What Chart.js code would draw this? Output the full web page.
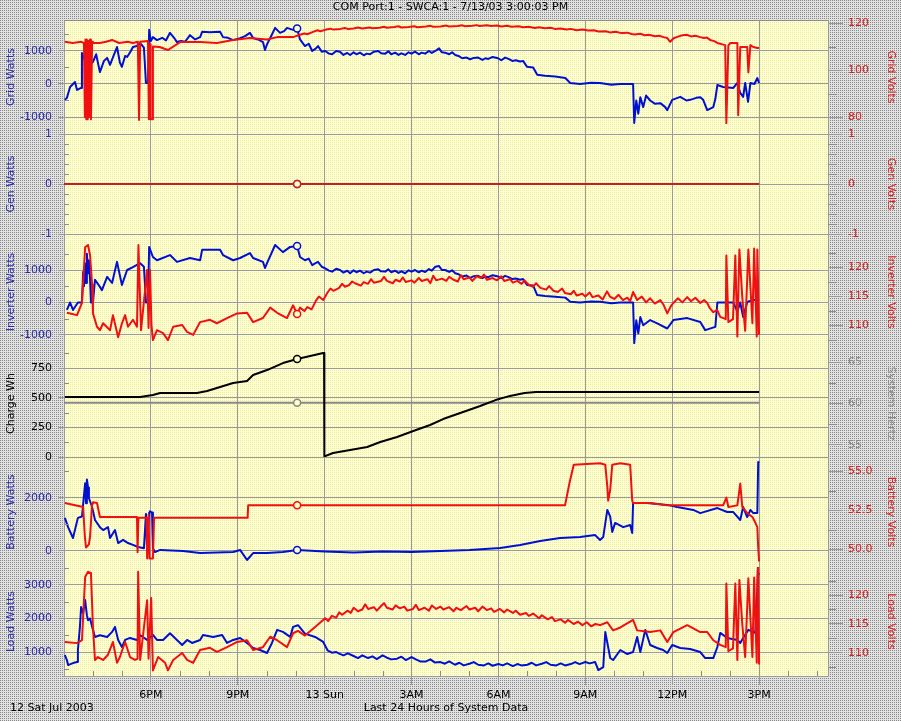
<!DOCTYPE html>
<html>
<head>
<meta charset="utf-8">
<title>COM Port:1 - SWCA:1</title>
<script src="https://cdn.jsdelivr.net/npm/chart.js@4.4.1/dist/chart.umd.min.js"></script>
<style>
  html, body { margin: 0; padding: 0; background: #d4d4d4; }
  canvas { display: block; }
</style>
</head>
<body>
<canvas id="chart" width="901" height="721"></canvas>
<script>
// hours since 3PM Sat 12 Jul 2003
let xTickHours = [3, 6, 9, 12, 15, 18, 21, 24];
let xTickLabels = ["6PM", "9PM", "13 Sun", "3AM", "6AM", "9AM", "12PM", "3PM"];
let markHour = 8.05;

// [hour, value]
let gridWatts = [[0.03,-480],[0.10,-420],[0.21,-90],[0.38,60],[0.45,-180],[0.59,-120],[0.62,940],[0.73,700],[0.83,1000],[0.90,600],[1.00,670],[1.11,900],[1.24,360],[1.38,700],[1.49,790],[1.59,580],[1.73,900],[1.83,1120],[1.93,650],[2.00,520],[2.11,850],[2.18,820],[2.31,1000],[2.38,1120],[2.52,1150],[2.63,1240],[2.76,1100],[2.83,30],[2.90,30],[2.94,1640],[3.00,1300],[3.07,1420],[3.21,1330],[3.39,1400],[3.52,1320],[3.66,1550],[3.80,1400],[3.90,1270],[4.04,1300],[4.18,1280],[4.35,1480],[4.53,1350],[4.70,1420],[4.77,1580],[5.04,1570],[5.39,1580],[5.49,1420],[5.66,1400],[5.84,1330],[6.08,1390],[6.25,1450],[6.42,1550],[6.53,1390],[6.70,1350],[6.87,1270],[6.94,1030],[7.01,1200],[7.18,1500],[7.29,1700],[7.46,1550],[7.60,1600],[7.70,1700],[7.91,1640],[8.05,1680],[8.15,1350],[8.32,1150],[8.45,1220],[8.57,1000],[8.70,1080],[8.77,1150],[8.90,980],[9.02,1000],[9.15,920],[9.26,900],[9.40,1000],[9.53,980],[9.65,880],[9.78,940],[9.88,880],[10.0,960],[10.1,900],[10.22,950],[10.35,870],[10.45,920],[10.57,900],[10.7,980],[10.85,1000],[10.95,930],[11.09,920],[11.2,990],[11.3,900],[11.43,950],[11.55,880],[11.65,930],[11.78,880],[11.9,960],[12.0,920],[12.12,980],[12.25,900],[12.35,950],[12.47,920],[12.6,1000],[12.7,940],[12.82,1000],[12.95,1080],[13.05,960],[13.16,950],[13.3,900],[13.4,960],[13.51,880],[13.62,850],[13.75,780],[13.9,800],[14.02,750],[14.15,790],[14.30,800],[14.45,730],[14.55,780],[14.65,760],[14.8,820],[14.99,780],[15.1,720],[15.23,800],[15.35,760],[15.48,700],[15.6,720],[15.75,680],[15.85,700],[15.99,520],[16.20,500],[16.34,280],[16.61,250],[16.96,230],[17.31,180],[17.48,30],[17.82,0],[18.2,40],[18.51,30],[18.9,-20],[19.20,0],[19.65,0],[19.69,-1180],[19.76,-500],[19.83,-900],[19.90,-400],[20.00,-700],[20.10,-350],[20.24,-500],[20.41,-600],[20.59,-580],[20.76,-700],[20.83,-790],[21.00,-480],[21.28,-390],[21.49,-500],[21.62,-480],[21.83,-420],[21.97,-400],[22.07,-480],[22.21,-790],[22.42,-700],[22.49,-450],[22.56,-30],[22.76,-90],[23.11,-120],[23.25,30],[23.35,-270],[23.45,-390],[23.52,30],[23.62,-540],[23.70,30],[23.84,0],[23.94,180],[24.00,30]];
let gridVolts = [[0.03,112],[0.30,111.5],[0.60,112],[0.69,111.5],[0.72,80],[0.74,113],[0.77,79],[0.79,113],[0.82,79],[0.85,112.5],[0.88,80],[0.90,113],[0.93,79],[0.97,112],[1.00,111.5],[1.24,111.5],[1.45,112],[1.66,112.8],[1.90,111.5],[2.20,112],[2.38,111.5],[2.55,112],[2.59,78.7],[2.63,112],[2.90,112.3],[2.93,79],[2.97,111],[2.99,79],[3.05,79],[3.07,110],[3.30,109.8],[3.59,108.5],[4.01,111.9],[4.70,111.9],[5.28,111.5],[5.84,112.8],[6.42,113.6],[7.01,113],[7.36,114],[7.91,114],[8.15,115],[8.3,115.5],[8.4,115.2],[8.6,116.2],[8.75,116.9],[8.85,116.5],[9.05,117.2],[9.2,117.6],[9.3,117.2],[9.55,117.5],[9.7,117.9],[9.8,117.5],[10.0,117.7],[10.15,118.1],[10.3,117.7],[10.55,118.1],[10.65,117.8],[10.9,118],[11.05,118.4],[11.15,118],[11.4,118.3],[11.55,118.6],[11.65,118.1],[11.9,118.3],[12.1,118.6],[12.2,118.2],[12.5,118.5],[12.65,118.8],[12.75,118.4],[13.0,118.5],[13.2,118.9],[13.3,118.5],[13.6,118.7],[13.75,119],[13.85,118.6],[14.1,118.8],[14.25,119.1],[14.35,118.7],[14.6,119],[14.75,118.7],[14.95,118.9],[15.1,118.5],[15.3,118.8],[15.45,118.4],[15.7,118.6],[15.85,118.2],[16.05,118.4],[16.25,117.9],[16.4,118.2],[16.6,117.8],[16.8,118],[16.95,117.5],[17.15,117.7],[17.35,117.2],[17.5,117.5],[17.7,116.9],[17.9,117.2],[18.1,116.8],[18.3,116.9],[18.45,116.4],[18.7,116.5],[18.85,116],[19.05,116.3],[19.25,115.7],[19.45,115.9],[19.6,115.3],[19.7,115.1],[19.9,115.4],[20.05,114.8],[20.2,115.0],[20.4,114.4],[20.55,114.6],[20.7,114.0],[20.83,113.6],[20.93,112],[21.05,113.5],[21.2,114.2],[21.35,114.8],[21.5,115],[21.65,114.3],[21.8,114.6],[21.97,114],[22.1,113.6],[22.2,113.8],[22.31,112.8],[22.45,112.3],[22.56,111.5],[22.83,110.6],[22.87,77.4],[22.94,110.5],[23.01,111.5],[23.25,111.5],[23.28,80.8],[23.35,109.8],[23.59,109.8],[23.63,99],[23.70,110.6],[23.80,109.8],[23.94,109.4],[24.00,109.4]];
let genWatts = [[0,0],[8.05,0],[24,0]];
let genVolts = [[0,0],[8.05,0],[24,0]];
let inverterWatts = [[0.10,-230],[0.21,0],[0.31,-230],[0.48,0],[0.62,0],[0.66,940],[0.69,500],[0.73,1200],[0.76,600],[0.79,1500],[0.83,900],[0.86,1300],[0.90,700],[0.93,0],[1.00,0],[1.07,700],[1.24,480],[1.31,380],[1.49,790],[1.66,600],[1.83,1250],[2.00,540],[2.18,1000],[2.38,1090],[2.63,1210],[2.76,1100],[2.83,0],[2.90,0],[2.94,1710],[3.07,1400],[3.21,1300],[3.66,1460],[3.90,1250],[4.35,1370],[4.70,1300],[4.77,1620],[5.39,1620],[5.49,1460],[5.84,1300],[6.08,1370],[6.42,1520],[6.53,1370],[6.87,1250],[6.94,1060],[7.01,1210],[7.29,1770],[7.56,1550],[7.81,1710],[8.05,1740],[8.15,1400],[8.32,1300],[8.45,1350],[8.57,1150],[8.7,1220],[8.77,1250],[8.9,1100],[9.02,1050],[9.15,980],[9.26,950],[9.4,1040],[9.53,1000],[9.65,920],[9.78,980],[9.88,900],[10.0,990],[10.1,930],[10.22,980],[10.35,900],[10.45,950],[10.57,920],[10.7,1000],[10.85,1020],[10.95,960],[11.09,950],[11.2,1020],[11.3,930],[11.43,980],[11.55,910],[11.65,960],[11.78,900],[11.9,990],[12.0,950],[12.12,1000],[12.25,930],[12.35,980],[12.47,940],[12.6,1030],[12.7,980],[12.82,1100],[12.95,1120],[13.05,1000],[13.16,1000],[13.3,940],[13.4,990],[13.51,900],[13.62,870],[13.75,800],[13.9,830],[14.02,760],[14.15,810],[14.30,820],[14.45,750],[14.55,800],[14.65,780],[14.8,840],[14.99,800],[15.1,750],[15.23,820],[15.35,780],[15.48,720],[15.6,740],[15.75,700],[15.85,720],[15.99,540],[16.20,520],[16.34,230],[16.61,200],[16.96,180],[17.31,150],[17.48,20],[17.82,0],[18.2,30],[18.51,20],[18.9,-20],[19.20,0],[19.65,0],[19.69,-1250],[19.76,-550],[19.83,-950],[19.90,-450],[20.00,-700],[20.24,-540],[20.50,-650],[20.83,-800],[21.04,-540],[21.52,-480],[21.97,-600],[22.14,-850],[22.49,-750],[22.56,0],[23.11,0],[23.25,-280],[23.35,0],[23.45,-450],[23.59,0],[23.63,30],[23.80,80],[24.00,80]];
let inverterVolts = [[0.10,112.1],[0.45,111.7],[0.62,113.8],[0.73,123.4],[0.83,123.8],[0.90,122],[0.97,117],[1.00,112],[1.14,109.7],[1.24,109.1],[1.35,110.3],[1.59,109.1],[1.69,111.7],[1.87,107.9],[2.00,110.3],[2.11,111.7],[2.21,109.7],[2.38,110.9],[2.52,109.7],[2.57,123.8],[2.66,109.1],[2.87,119.5],[2.92,109.5],[2.97,119.5],[3.02,110],[3.07,107.4],[3.21,109.1],[3.42,108.6],[3.59,107.4],[3.77,109.7],[4.08,110],[4.25,108.8],[4.46,108.3],[4.70,110.5],[5.04,110.9],[5.28,110.3],[5.63,111.2],[5.98,112],[6.32,112.1],[6.53,110.5],[6.87,111.2],[7.12,113],[7.36,112.1],[7.70,111.2],[7.91,113.4],[8.05,111.9],[8.15,113],[8.3,112.4],[8.4,113.1],[8.55,112.7],[8.7,114.2],[8.8,114.9],[8.95,114.3],[9.1,115.6],[9.2,116.3],[9.3,115.9],[9.5,116.4],[9.6,117.1],[9.7,116.6],[9.85,116.9],[9.95,117.5],[10.05,117.2],[10.25,116.8],[10.35,117.4],[10.5,117.1],[10.6,117.9],[10.7,117.3],[10.95,117.6],[11.05,118.3],[11.15,117.6],[11.35,117.2],[11.45,117.8],[11.6,117.5],[11.7,118.2],[11.8,117.4],[12.0,117.7],[12.1,117.3],[12.25,118.1],[12.35,117.6],[12.55,117.9],[12.65,117.2],[12.75,118.5],[12.85,117.7],[13.05,118],[13.2,117.6],[13.3,118.3],[13.45,117.8],[13.6,117.5],[13.7,118.6],[13.8,117.9],[14.0,118.2],[14.1,117.6],[14.25,118.4],[14.4,118.1],[14.5,118.7],[14.6,117.8],[14.8,118.1],[14.95,117.7],[15.1,118.4],[15.2,117.6],[15.4,117.9],[15.5,117.3],[15.65,117.6],[15.8,117.1],[15.9,117.7],[16.05,116.9],[16.2,116.6],[16.3,117.2],[16.45,116.4],[16.65,116.1],[16.75,116.7],[16.9,115.9],[17.05,115.7],[17.2,116.3],[17.3,115.5],[17.5,115.3],[17.6,115.9],[17.7,115.1],[17.9,115.4],[18.0,114.9],[18.15,115.6],[18.25,114.8],[18.45,115.1],[18.6,114.4],[18.75,115.8],[18.85,114.9],[19.0,114.5],[19.15,115.2],[19.3,114.3],[19.45,114.7],[19.55,114.1],[19.65,115.7],[19.79,114.3],[19.95,114.9],[20.1,113.9],[20.24,114.6],[20.4,113.7],[20.59,114.3],[20.7,113.5],[20.83,112],[20.95,113.2],[21.04,113.8],[21.2,114.6],[21.35,113.9],[21.52,114.8],[21.65,114.1],[21.8,114.7],[21.97,113.8],[22.1,114.3],[22.21,113.8],[22.3,112.9],[22.42,112.2],[22.55,112.6],[22.66,111.4],[22.85,111],[22.87,122],[22.94,110.5],[23.10,111],[23.18,122],[23.25,108],[23.32,123],[23.42,114.8],[23.52,109],[23.63,123],[23.77,110.3],[23.83,123.2],[23.92,108],[23.94,123],[24.00,108.3]];
let chargeWh = [[0.03,506],[2.63,506],[3.07,522],[3.32,540],[4.59,540],[4.94,556],[5.84,624],[6.32,640],[6.53,691],[7.01,733],[7.56,792],[8.05,826],[8.95,876],[8.98,876],[8.99,5],[9.29,34],[9.88,59],[10.47,84],[10.92,126],[11.50,169],[12.06,219],[12.64,270],[13.09,320],[13.78,379],[14.37,430],[14.90,480],[15.40,515],[15.90,540],[16.30,548],[24.00,548]];
let systemHertz = [[0,60.1],[8.05,60.1],[24,60.1]];
let batteryWatts = [[0.03,1250],[0.14,900],[0.31,490],[0.48,1250],[0.62,1300],[0.73,2560],[0.76,1800],[0.79,2700],[0.83,2400],[0.86,2000],[0.97,1660],[1.07,1170],[1.24,900],[1.35,790],[1.52,900],[1.59,490],[1.76,790],[1.87,300],[2.04,420],[2.21,300],[2.38,230],[2.56,150],[2.76,100],[2.83,1400],[2.87,50],[2.94,1430],[2.97,1500],[3.04,1450],[3.07,100],[3.14,-40],[3.32,40],[4.11,0],[4.70,-80],[5.84,-40],[6.08,40],[6.32,-340],[6.53,-80],[7.01,-80],[7.56,-40],[8.05,40],[9.0,-20],[10.0,-60],[11.0,-20],[12.0,-40],[13.0,0],[14.0,40],[15.06,110],[15.75,225],[16.44,380],[17.13,490],[17.82,530],[18.34,600],[18.51,415],[18.62,530],[18.76,1550],[18.86,1300],[18.93,720],[19.03,1060],[19.31,900],[19.55,980],[19.62,680],[19.65,1810],[20.14,1810],[20.83,1740],[21.17,1660],[21.73,1550],[21.97,1430],[22.56,1620],[22.90,1470],[23.11,1470],[23.35,1170],[23.45,1660],[23.59,1280],[23.70,1550],[23.80,1430],[23.94,1430],[23.97,3360],[24.00,3320]];
let batteryVolts = [[0.03,52.95],[0.66,52.7],[0.72,50.8],[0.76,50.1],[0.86,50.3],[0.90,50.8],[0.97,52.9],[1.00,53.0],[1.14,52.95],[1.24,52.05],[2.52,52.05],[2.54,49.8],[2.57,52.0],[2.85,52.0],[2.87,49.4],[2.92,52.2],[2.95,49.4],[3.07,49.4],[3.11,52.0],[6.34,52.0],[6.36,52.8],[8.05,52.8],[17.30,52.8],[17.45,54.2],[17.60,55.4],[18.51,55.5],[18.69,55.4],[18.76,54.0],[18.79,53.1],[18.86,53.8],[18.93,55.4],[19.21,55.5],[19.55,55.4],[19.62,53.1],[19.65,52.95],[20.24,52.95],[20.83,52.8],[22.76,52.8],[22.87,53.3],[22.94,52.7],[23.25,52.8],[23.35,54.2],[23.42,52.7],[23.59,52.3],[23.77,52.05],[23.87,51.7],[23.94,51.4],[23.97,50.1],[24.00,49.2]];
let loadWatts = [[0.03,910],[0.10,760],[0.14,610],[0.31,670],[0.45,700],[0.48,1060],[0.55,1750],[0.59,2340],[0.66,2160],[0.73,2550],[0.79,2100],[0.83,1950],[0.90,2000],[1.00,1660],[1.07,1450],[1.24,1500],[1.49,1450],[1.66,1600],[1.76,1750],[1.87,1360],[2.00,1150],[2.11,1360],[2.28,1420],[2.52,1360],[2.63,1500],[2.87,1360],[3.07,1510],[3.21,1360],[3.42,1360],[3.66,1560],[3.90,1360],[4.08,1210],[4.25,1360],[4.42,1270],[4.70,1360],[4.80,1510],[5.15,1450],[5.46,1510],[5.63,1270],[5.84,1360],[6.08,1420],[6.32,1270],[6.53,1120],[6.77,1060],[7.01,970],[7.18,1270],[7.36,1660],[7.56,1600],[7.81,1450],[7.91,1750],[8.08,1800],[8.32,1550],[8.67,1450],[8.95,1300],[9.10,1050],[9.25,980],[9.4,1000],[9.5,950],[9.65,900],[9.8,960],[10.0,880],[10.15,820],[10.3,900],[10.5,820],[10.65,870],[10.8,790],[11.0,900],[11.15,830],[11.3,780],[11.5,800],[11.65,860],[11.8,760],[12.0,850],[12.15,780],[12.3,720],[12.5,720],[12.65,780],[12.8,690],[13.0,700],[13.15,650],[13.3,720],[13.5,620],[13.65,680],[13.8,600],[14.0,650],[14.15,700],[14.3,620],[14.5,600],[14.65,660],[14.8,590],[15.0,640],[15.15,600],[15.3,660],[15.5,580],[15.65,640],[15.8,600],[16.0,620],[16.15,680],[16.3,600],[16.5,650],[16.65,700],[16.8,620],[17.0,600],[17.15,660],[17.3,600],[17.5,640],[17.65,700],[17.8,640],[18.0,700],[18.15,660],[18.34,700],[18.45,460],[18.62,550],[18.69,1600],[18.86,820],[18.96,760],[19.21,1060],[19.45,940],[19.65,1000],[19.79,1450],[19.90,1000],[20.07,1660],[20.24,1210],[20.48,1120],[20.69,1060],[20.83,970],[21.00,1210],[21.28,1120],[21.62,1090],[21.97,1000],[22.14,820],[22.42,820],[22.56,1150],[22.66,1570],[22.90,1420],[23.25,1360],[23.35,1270],[23.45,1420],[23.63,1660],[23.87,1570],[23.97,3360],[24.00,3300]];
let loadVolts = [[0.03,111.9],[0.45,111.7],[0.62,112.2],[0.73,123.1],[0.83,124],[0.93,123.8],[1.00,114.5],[1.07,108.8],[1.17,109.3],[1.35,108.8],[1.52,109.7],[1.69,111.9],[1.83,108.3],[1.93,109.3],[2.11,111.9],[2.28,109.3],[2.45,108.8],[2.54,109],[2.56,124],[2.63,108.8],[2.87,119.1],[2.92,109],[3.01,119.5],[3.07,107],[3.25,109.3],[3.49,108.3],[3.59,107],[3.77,108.8],[4.08,110],[4.25,108.8],[4.46,108.3],[4.70,110.5],[5.04,110.9],[5.28,110.2],[5.63,111],[5.98,111.9],[6.32,112.2],[6.53,110.5],[6.87,111],[7.12,112.8],[7.36,112.2],[7.70,111],[7.91,113.4],[8.08,113.8],[8.32,113],[8.67,114.5],[9.02,116],[9.12,115.5],[9.25,116.4],[9.4,116.1],[9.5,117.0],[9.6,116.6],[9.8,117.3],[9.9,116.9],[10.0,117.8],[10.15,117.2],[10.3,117.5],[10.4,118.4],[10.5,117.6],[10.7,117.9],[10.8,117.3],[10.95,118.1],[11.05,118.6],[11.15,117.8],[11.35,117.5],[11.45,118.2],[11.6,117.7],[11.75,118],[11.85,117.3],[12.05,117.6],[12.15,118.3],[12.25,117.4],[12.45,117.8],[12.6,117.3],[12.7,118.2],[12.85,117.6],[13.0,118.0],[13.1,117.5],[13.3,117.9],[13.45,117.2],[13.55,117.8],[13.7,117.4],[13.9,118.1],[14.0,117.5],[14.2,117.8],[14.3,117.2],[14.45,118.0],[14.6,117.4],[14.75,117.7],[14.85,117.1],[15.05,117.6],[15.2,117.0],[15.3,117.5],[15.5,116.9],[15.6,117.3],[15.75,116.6],[15.95,116.9],[16.05,116.4],[16.2,116.8],[16.4,116.0],[16.5,116.5],[16.7,115.8],[16.85,116.2],[16.95,115.5],[17.15,115.8],[17.3,115.2],[17.4,115.7],[17.6,115.0],[17.75,115.4],[17.9,114.8],[18.05,115.3],[18.2,114.6],[18.35,115.0],[18.51,114.8],[18.76,115.3],[18.96,113.9],[19.21,114.4],[19.65,115.7],[19.79,113.9],[20.24,113.6],[20.59,113.9],[20.83,111.9],[21.04,113.6],[21.52,114.8],[21.97,113.6],[22.21,113.6],[22.42,112.2],[22.66,111.4],[22.85,111],[22.87,122],[22.94,110.3],[23.10,110.8],[23.18,122],[23.25,108.8],[23.32,122.6],[23.42,115],[23.52,109.3],[23.63,122.9],[23.77,109.3],[23.83,123],[23.92,108.3],[23.94,123],[23.97,126],[24.00,108]];

// tick values per axis
let majorTicks = {
    gw: [1000, 0, -1000], gv: [120, 100, 80],
    genw: [1, 0, -1], genv: [1, 0, -1],
    iw: [1000, 0, -1000], iv: [120, 115, 110],
    chg: [750, 500, 250, 0], hz: [65, 60, 55],
    bw: [2000, 0], bv: [55, 52.5, 50],
    lw: [3000, 2000, 1000], lv: [120, 115, 110]
};
let minorTicks = {
    gw: [1500, 500, -500], gv: [110, 90],
    genw: [0.8, 0.6, 0.4, 0.2, -0.2, -0.4, -0.6, -0.8], genv: [0.8, 0.6, 0.4, 0.2, -0.2, -0.4, -0.6, -0.8],
    iw: [1500, 500, -500], iv: [122.5, 117.5, 112.5, 107.5],
    chg: [875, 625, 375, 125], hz: [62.5, 57.5],
    bw: [3000, 1000], bv: [53.75, 51.25],
    lw: [3500, 2500, 1500, 500], lv: [122.5, 117.5, 112.5, 107.5]
};

let blue = "#0010d0";
let red = "#f01010";
let leftBlue = "#2828a8";
let rightRed = "#d82020";

Chart.defaults.font.family = "'DejaVu Sans', Verdana, sans-serif";
Chart.defaults.font.size = 11;

function pts(arr) {
    return arr.map(function (p) { return { x: p[0], y: p[1] }; });
}

function series(data, axis, color, order, width) {
    return {
        data: pts(data),
        yAxisID: axis,
        borderColor: color,
        borderWidth: width || 2,
        borderJoinStyle: 'round',
        order: order,
        tension: 0,
        pointRadius: function (c) { return c.raw && c.raw.x === markHour ? 3.5 : 0; },
        pointBorderWidth: 1.5,
        pointBorderColor: color,
        pointBackgroundColor: "#ffffcc"
    };
}

function yAxis(id, side, title, color, min, max, weight, stackWeight, fmt) {
    let left = side === 'left';
    return {
        type: 'linear',
        position: side,
        stack: side,
        stackWeight: stackWeight,
        weight: weight,
        min: min,
        max: max,
        afterBuildTicks: function (s) { s.ticks = majorTicks[id].map(function (v) { return { value: v }; }); },
        afterFit: function (s) { s.width = left ? 64 : 73; },
        ticks: {
            color: color,
            padding: left ? 6 : 5,
            autoSkip: false,
            callback: fmt || function (v) { return String(v); }
        },
        grid: left ? { color: "#9a9a9a", tickLength: 6 } : { color: "#9a9a9a", tickLength: 15, drawOnChartArea: false },
        border: { display: true, color: "#9a9a9a" },
        title: { display: true, text: title, color: color, padding: left ? { top: 5, bottom: 0 } : { top: 4, bottom: 0 } }
    };
}

function dither(ctx, dot, base) {
    let c = document.createElement('canvas');
    c.width = 2; c.height = 2;
    let g = c.getContext('2d');
    g.fillStyle = base; g.fillRect(0, 0, 2, 2);
    g.fillStyle = dot; g.fillRect(0, 0, 1, 1);
    return ctx.createPattern(c, 'repeat');
}

let backdrop = {
    id: 'backdrop',
    beforeDraw: function (chart) {
        let ctx = chart.ctx, a = chart.chartArea;
        ctx.save();
        ctx.fillStyle = dither(ctx, "#888888", "#e2e2e2");
        ctx.fillRect(0, 0, chart.width, chart.height);
        ctx.fillStyle = dither(ctx, "#ecec9c", "#ffffd6");
        ctx.fillRect(a.left, a.top, a.right - a.left, a.bottom - a.top);
        ctx.restore();
    },
    afterDraw: function (chart) {
        let ctx = chart.ctx, a = chart.chartArea;
        ctx.save();
        ctx.strokeStyle = "#8c8c8c";
        ctx.lineWidth = 1;
        ctx.beginPath();
        ctx.moveTo(a.left, Math.round(a.top) + 0.5);
        ctx.lineTo(a.right, Math.round(a.top) + 0.5);
        for (let id in minorTicks) {
            let s = chart.scales[id];
            for (let v of minorTicks[id]) {
                let y = Math.round(s.getPixelForValue(v)) + 0.5;
                if (s.position === 'right') {
                    ctx.moveTo(a.right, y); ctx.lineTo(a.right + 8, y);
                } else {
                    ctx.moveTo(a.left, y); ctx.lineTo(a.left + 5, y);
                }
            }
        }
        let xs = chart.scales.x;
        for (let h = 1; h <= 26; h++) {
            if (h % 3 === 0) continue;
            let x = Math.round(xs.getPixelForValue(h)) + 0.5;
            ctx.moveTo(x, a.bottom); ctx.lineTo(x, a.bottom - 5);
        }
        ctx.stroke();
        ctx.fillStyle = "#000";
        ctx.font = "11px 'DejaVu Sans', Verdana, sans-serif";
        ctx.textBaseline = 'middle';
        ctx.fillText("12 Sat Jul 2003", 10, 708);
        ctx.restore();
    }
};

new Chart(document.getElementById("chart"), {
    type: 'line',
    data: {
        datasets: [
            series(gridVolts, 'gv', red, 1),
            series(gridWatts, 'gw', blue, 2),
            series(genVolts, 'genv', "#c42020", 1),
            series(genWatts, 'genw', blue, 2),
            series(inverterVolts, 'iv', red, 1),
            series(inverterWatts, 'iw', blue, 2),
            series(chargeWh, 'chg', "#000000", 1),
            series(systemHertz, 'hz', "#888888", 2),
            series(batteryVolts, 'bv', red, 1),
            series(batteryWatts, 'bw', blue, 2),
            series(loadVolts, 'lv', red, 1),
            series(loadWatts, 'lw', blue, 2)
        ]
    },
    options: {
        responsive: false,
        animation: false,
        events: [],
        layout: { padding: 0 },
        plugins: {
            legend: { display: false },
            tooltip: { enabled: false },
            title: {
                display: true,
                text: "COM Port:1 - SWCA:1 - 7/13/03 3:00:03 PM",
                color: "#000",
                font: { size: 11, weight: 'normal' },
                padding: { top: 1, bottom: 5.8 }
            }
        },
        scales: {
            x: {
                type: 'linear',
                min: 0,
                max: 26.38,
                afterBuildTicks: function (s) { s.ticks = xTickHours.map(function (v) { return { value: v }; }); },
                afterFit: function (s) { s.height = 45; },
                ticks: {
                    color: "#000",
                    padding: 4,
                    autoSkip: false,
                    maxRotation: 0,
                    callback: function (v) { return xTickLabels[xTickHours.indexOf(v)]; }
                },
                grid: { color: "#9a9a9a", tickLength: 9 },
                border: { display: true, color: "#9a9a9a" },
                title: { display: true, text: "Last 24 Hours of System Data", color: "#000", padding: { top: 0, bottom: 6 } }
            },
            gw: yAxis('gw', 'left', "Grid Watts", leftBlue, -1515, 1939, 6, 114),
            genw: yAxis('genw', 'left', "Gen Watts", leftBlue, -1, 1, 5, 100),
            iw: yAxis('iw', 'left', "Inverter Watts", leftBlue, -1462, 2108, 4, 116),
            chg: yAxis('chg', 'left', "Charge Wh", "#000000", 0, 902, 3, 107),
            bw: yAxis('bw', 'left', "Battery Watts", leftBlue, -604, 3547, 2, 110),
            lw: yAxis('lw', 'left', "Load Watts", leftBlue, 284, 3537, 1, 109),
            gv: yAxis('gv', 'right', "Grid Volts", rightRed, 72.77, 121.28, 1, 114),
            genv: yAxis('genv', 'right', "Gen Volts", rightRed, -1, 1, 2, 100),
            iv: yAxis('iv', 'right', "Inverter Volts", rightRed, 105.69, 125.69, 3, 116),
            hz: yAxis('hz', 'right', "System Hertz", "#8a8a8a", 53.55, 66.45, 4, 107),
            bv: yAxis('bv', 'right', "Battery Volts", rightRed, 48.85, 55.9, 5, 110, function (v) { return v.toFixed(1); }),
            lv: yAxis('lv', 'right', "Load Volts", rightRed, 106.03, 124.83, 6, 109)
        }
    },
    plugins: [backdrop]
});
</script>
</body>
</html>
